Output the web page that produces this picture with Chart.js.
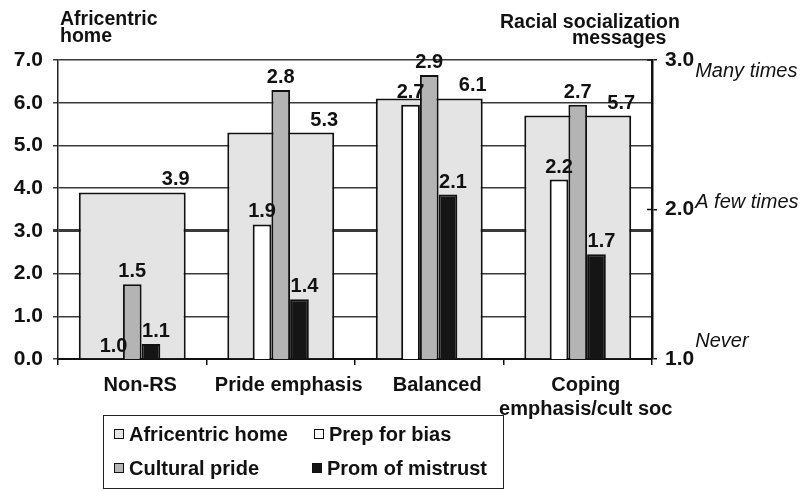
<!DOCTYPE html>
<html>
<head>
<meta charset="utf-8">
<script src="https://cdn.jsdelivr.net/npm/chart.js@4.4.0/dist/chart.umd.min.js"></script>
<style>
    body { margin: 0; background: #fff; }
    #wrap { position: relative; width: 809px; height: 491px; font-family: "Liberation Sans", Arial, sans-serif; }
    #legend { position: absolute; left: 103px; top: 415px; width: 401px; height: 74px; border: 1.5px solid #222; box-sizing: border-box; }
    .item { position: absolute; font-weight: bold; font-size: 20px; color: #111; line-height: 22px; white-space: nowrap; }
    .swatch { display: inline-block; width: 8px; height: 8px; border: 1.5px solid #111; margin-right: 5px; position: relative; top: -2px; }
</style>
</head>
<body>
<div id="wrap">
    <canvas id="chart" width="809" height="491"></canvas>
    <div id="legend"></div>
</div>
<script>
// Data
const categories = ['Non-RS', 'Pride emphasis', 'Balanced', ['Coping', 'emphasis/cult soc']];
const africentricHome = [3.9, 5.3, 6.1, 5.7];   // left axis
const prepForBias = [1.0, 1.9, 2.7, 2.2];       // right axis
const culturalPride = [1.5, 2.8, 2.9, 2.7];
const promOfMistrust = [1.1, 1.4, 2.1, 1.7];
const rightTickNotes = { 1: 'Never', 2: 'A few times', 3: 'Many times' };

const FONT = '"Liberation Sans", Arial, sans-serif';

// legend slots inside the box (left, top)
const legendSlots = [[10, 7], [210, 7], [10, 41], [208, 41]];

// Value labels, axis titles and the right axis notes
const annotate = {
    id: 'annotate',
    afterDatasetsDraw(chart) {
        const ctx = chart.ctx;
        ctx.save();
        ctx.font = 'bold 20px ' + FONT;
        ctx.fillStyle = '#111';
        ctx.textAlign = 'center';
        chart.data.datasets.forEach((ds, i) => {
            const meta = chart.getDatasetMeta(i);
            meta.data.forEach((bar, j) => {
                let x = bar.x;
                if (i === 0) x = bar.x + bar.width / 2 - 10;   // Africentric label sits at top right
                if (i === 3) x += 5;
                ctx.fillText(ds.data[j].toFixed(1), x, bar.y - 7);
            });
        });
        ctx.restore();
    },
    afterDraw(chart) {
        const ctx = chart.ctx;
        const y2 = chart.scales.y2;
        const area = chart.chartArea;
        ctx.save();
        ctx.fillStyle = '#111';
        ctx.font = 'bold 19.5px ' + FONT;
        ctx.textAlign = 'left';
        ctx.fillText('Africentric', 60, 25);
        ctx.fillText('home', 60, 42);
        ctx.fillText('Racial socialization', area.right - 152, 28);
        ctx.fillText('messages', area.right - 80, 44);

        // little marks inside the right axis
        ctx.strokeStyle = '#111';
        ctx.lineWidth = 1.5;
        y2.ticks.forEach(t => {
            const py = y2.getPixelForValue(t.value);
            ctx.beginPath();
            ctx.moveTo(area.right - 5, py);
            ctx.lineTo(area.right, py);
            ctx.stroke();
        });

        // italic notes next to right tick labels
        ctx.font = 'bold 21px ' + FONT;
        const w = ctx.measureText('3.0').width;
        ctx.font = 'italic 20px ' + FONT;
        const noteDy = { 1: -12, 2: -2, 3: 17 };
        Object.keys(rightTickNotes).forEach(v => {
            const py = y2.getPixelForValue(Number(v));
            ctx.fillText(rightTickNotes[v], area.right + 13 + w + 1, py + noteDy[v]);
        });
        ctx.restore();
    }
};

const gridColor = '#3a3a3a';

const chart = new Chart(document.getElementById('chart').getContext('2d'), {
    type: 'bar',
    data: {
        labels: categories,
        datasets: [
            {
                label: 'Africentric home',
                data: africentricHome,
                yAxisID: 'y',
                backgroundColor: '#e4e4e4',
                borderColor: '#111',
                borderWidth: 2,
                grouped: false,
                categoryPercentage: 1,
                barPercentage: 0.72,
                order: 2
            },
            {
                label: 'Prep for bias',
                data: prepForBias,
                yAxisID: 'y2',
                backgroundColor: '#ffffff',
                borderColor: '#111',
                borderWidth: 2,
                categoryPercentage: 0.378,
                barPercentage: 1,
                order: 1
            },
            {
                label: 'Cultural pride',
                data: culturalPride,
                yAxisID: 'y2',
                backgroundColor: '#b4b4b4',
                borderColor: '#111',
                borderWidth: 2,
                categoryPercentage: 0.378,
                barPercentage: 1,
                order: 1
            },
            {
                label: 'Prom of mistrust',
                data: promOfMistrust,
                yAxisID: 'y2',
                backgroundColor: '#151515',
                borderColor: '#111',
                borderWidth: 2,
                categoryPercentage: 0.378,
                barPercentage: 1,
                order: 1
            }
        ]
    },
    options: {
        responsive: false,
        animation: false,
        layout: { padding: { top: 60, left: 0, right: 0, bottom: 0 } },
        plugins: {
            legend: { display: false },
            tooltip: { enabled: false }
        },
        scales: {
            x: {
                position: 'bottom',
                offset: true,
                grid: {
                    display: true,
                    offset: true,
                    drawOnChartArea: false,
                    tickLength: 6,
                    color: '#111',
                    lineWidth: 1.5
                },
                border: { color: '#111', width: 2 },
                ticks: {
                    color: '#111',
                    padding: 8,
                    labelOffset: 8,
                    maxRotation: 0,
                    autoSkip: false,
                    font: { family: FONT, size: 20, weight: 'bold', lineHeight: 1.2 }
                },
                afterFit(scale) { scale.height = 132; }
            },
            y: {
                position: 'left',
                min: 0,
                max: 7,
                ticks: {
                    stepSize: 1,
                    color: '#111',
                    padding: 10,
                    callback: v => v.toFixed(1),
                    font: { family: FONT, size: 21, weight: 'bold' }
                },
                grid: {
                    color: gridColor,
                    lineWidth: c => (c.tick && c.tick.value === 3 ? 3 : 1.5),
                    tickLength: 5
                },
                border: { color: '#222', width: 1.5 },
                afterFit(scale) { scale.width = 58; }
            },
            y2: {
                position: 'right',
                min: 1,
                max: 3,
                ticks: {
                    stepSize: 1,
                    color: '#111',
                    padding: 8,
                    callback: v => v.toFixed(1),
                    font: { family: FONT, size: 21, weight: 'bold' }
                },
                grid: {
                    drawOnChartArea: false,
                    color: '#111',
                    lineWidth: 1.5,
                    tickLength: 5
                },
                border: { color: '#111', width: 2.5 },
                afterFit(scale) { scale.width = 157; }
            }
        }
    },
    plugins: [annotate]
});

// Legend box built from the datasets
const legendEl = document.getElementById('legend');
chart.data.datasets.forEach((ds, i) => {
    const item = document.createElement('div');
    item.className = 'item';
    item.style.left = legendSlots[i][0] + 'px';
    item.style.top = legendSlots[i][1] + 'px';
    const sw = document.createElement('span');
    sw.className = 'swatch';
    sw.style.background = ds.backgroundColor;
    item.appendChild(sw);
    item.appendChild(document.createTextNode(ds.label));
    legendEl.appendChild(item);
});
</script>
</body>
</html>
